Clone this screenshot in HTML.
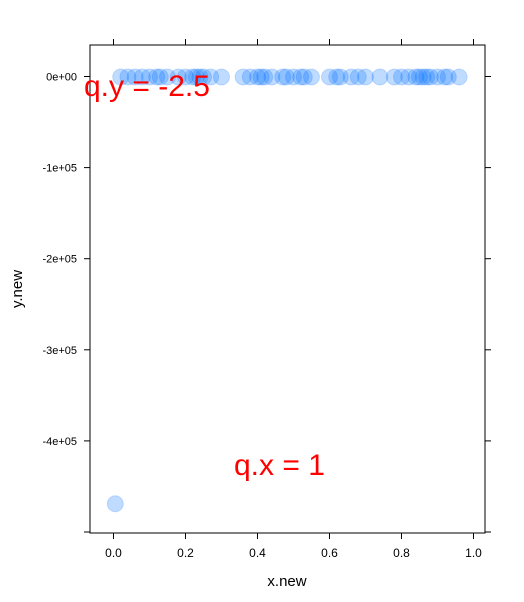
<!DOCTYPE html>
<html><head><meta charset="utf-8"><style>
body{margin:0;background:#fff;}
svg{display:block;font-family:"Liberation Sans",sans-serif;}
</style></head><body>
<svg id="chart" width="524" height="602">
<rect x="90" y="45" width="395" height="488" fill="none" stroke="#000" stroke-width="1"/>
<g id="axes"></g>
<g id="points"></g>
<text x="84" y="96" font-size="30" fill="#ff0000">q.y = -2.5</text>
<text x="234" y="475" font-size="30" fill="#ff0000">q.x = 1</text>
<text x="287" y="586" font-size="15" text-anchor="middle">x.new</text>
<text x="22" y="289" font-size="15" text-anchor="middle" transform="rotate(-90 22 289)">y.new</text>
</svg>
<script>
const xTicks=[0,0.2,0.4,0.6,0.8,1.0];
const xTickLabels=["0.0","0.2","0.4","0.6","0.8","1.0"];
const yTicks=[0,-100000,-200000,-300000,-400000,-500000];
const yTickLabels=["0e+00","-1e+05","-2e+05","-3e+05","-4e+05",""];
const xValues=[0.02,0.04,0.06,0.08,0.1,0.12,0.13,0.15,0.18,0.2,0.22,0.23,0.24,0.25,0.27,0.3,0.36,0.38,0.4,0.41,0.42,0.44,0.47,0.48,0.5,0.52,0.53,0.55,0.6,0.62,0.63,0.66,0.68,0.7,0.74,0.78,0.8,0.82,0.84,0.85,0.86,0.87,0.88,0.9,0.92,0.93,0.96,0.005];
const yValues=[-500,-500,-500,-500,-500,-500,-500,-500,-500,-500,-500,-500,-500,-500,-500,-500,-500,-500,-500,-500,-500,-500,-500,-500,-500,-500,-500,-500,-500,-500,-500,-500,-500,-500,-500,-500,-500,-500,-500,-500,-500,-500,-500,-500,-500,-500,-500,-469000];
const sx=v=>113.5+v*360;
const sy=v=>76.5-v/100000*91.1;
const NS="http://www.w3.org/2000/svg";
const axes=document.getElementById('axes');
function mk(tag,attrs,parent){const e=document.createElementNS(NS,tag);for(const k in attrs)e.setAttribute(k,attrs[k]);parent.appendChild(e);return e;}
xTicks.forEach((t,i)=>{
 const x=sx(t);
 const b=mk('line',{x1:x,x2:x,y1:533,y2:539,stroke:'#000'},axes);
 
 
 const tp=mk('line',{x1:x,x2:x,y1:45,y2:39,stroke:'#000'},axes);
 
 
 const l=mk('text',{x:x,y:557,'font-size':12,'text-anchor':'middle'},axes);
 l.textContent=xTickLabels[i];
 
 
});
yTicks.forEach((t,i)=>{
 const y=sy(t);
 const a=mk('line',{x1:84,x2:90,y1:y,y2:y,stroke:'#000'},axes);
 
 
 const b=mk('line',{x1:485,x2:491,y1:y,y2:y,stroke:'#000'},axes);
 
 
 const l=mk('text',{x:77,y:y+4,'font-size':11,'text-anchor':'end'},axes);
 l.textContent=yTickLabels[i];
 
 
});
const pts=document.getElementById('points');
xValues.forEach((v,i)=>{
 const c=mk('circle',{cx:sx(v),cy:sy(yValues[i]),r:8,fill:'rgba(0,110,255,0.25)',stroke:'rgba(0,110,255,0.18)'},pts);
 
 
});
</script>
</body></html>
